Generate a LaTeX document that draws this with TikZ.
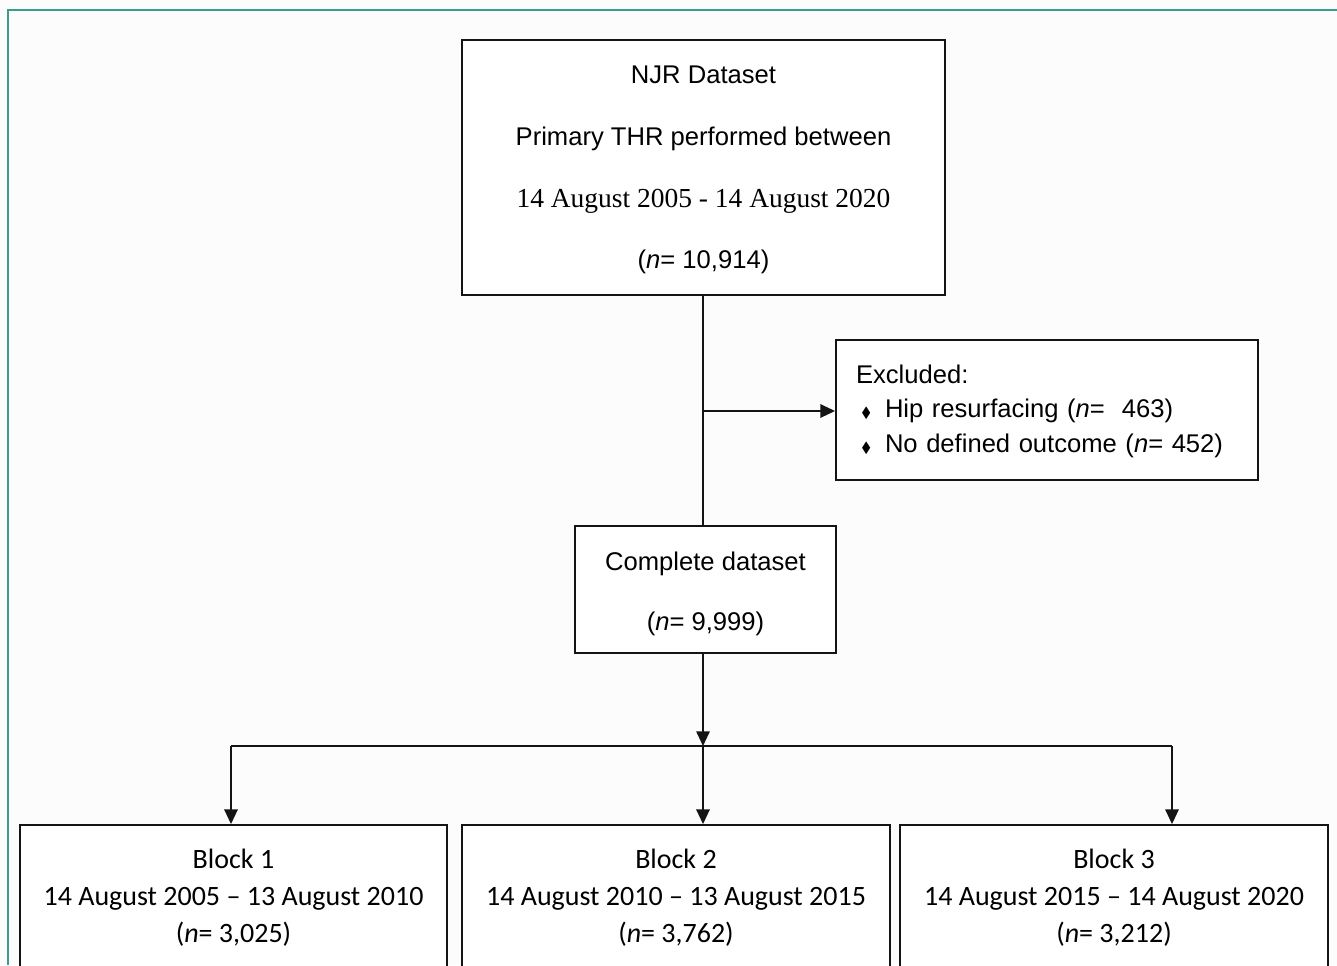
\documentclass[tikz,border=0pt]{standalone}
\usepackage{amssymb}
\usepackage{fontspec}
\setmainfont{Liberation Sans}
\newfontfamily\timesf{Liberation Serif}
\newfontfamily\calib{Carlito}
\usetikzlibrary{arrows.meta}
\definecolor{teal1}{RGB}{58,158,143}
\definecolor{ink}{RGB}{20,20,20}
\newcommand{\dbul}{\hspace*{4pt}\makebox[17.75pt][l]{\fontsize{11}{11}\selectfont$\blacklozenge$}}
\tikzset{
  box/.style={draw=ink, line width=1.4pt, fill=white, inner sep=0pt, align=center},
  mainfont/.style={font=\fontsize{19.2}{46.3}\selectfont},
  blockfont/.style={font=\calib\fontsize{21}{27.75}\selectfont},
  conn/.style={draw=ink, line width=1.4pt},
  arr/.style={conn, -{Triangle[width=10pt,length=11pt]}}
}
\begin{document}
\begin{tikzpicture}[x=0.75pt,y=-0.75pt]
\useasboundingbox (0,0) rectangle (1337,965);
\fill[white!99!black] (0,0) rectangle (1337,965);
\clip (0,0) rectangle (1337,965);
\draw[teal1, line width=1.8pt] (8,965) -- (8,10) -- (1340,10);

\node[box, mainfont, minimum width=362.25pt, minimum height=191.25pt] (top) at (703.5,167.5)
  {\rule{0pt}{17pt}NJR Dataset\\ Primary THR performed between\\ {\timesf\fontsize{20.6}{46.3}\selectfont 14 August 2005 - 14 August 2020}\\ (\textit{n}= 10,914)};

\node[box, font=\fontsize{19.2}{25.9}\selectfont, minimum width=316.5pt, minimum height=105pt,
      text width=286.5pt, align=left] (excl) at (1047,410)
  {\rule{0pt}{15.5pt}Excluded:\\ \dbul Hip resurfacing (\textit{n}=\ \ 463)\\ \dbul No defined outcome (\textit{n}= 452)};

\node[box, font=\fontsize{19.2}{45}\selectfont, minimum width=195.75pt, minimum height=95.25pt] (comp) at (705.5,589.5)
  {\rule{0pt}{20pt}Complete dataset\\ (\textit{n}= 9,999)};

\node[box, blockfont, minimum width=320.25pt, minimum height=109.5pt] (b1) at (233.5,898)
  {Block 1\\ 14 August 2005 – 13 August 2010\\ (\textit{n}= 3,025)};
\node[box, blockfont, minimum width=321pt, minimum height=109.5pt] (b2) at (676,898)
  {Block 2\\ 14 August 2010 – 13 August 2015\\ (\textit{n}= 3,762)};
\node[box, blockfont, minimum width=321pt, minimum height=109.5pt] (b3) at (1114,898)
  {Block 3\\ 14 August 2015 – 14 August 2020\\ (\textit{n}= 3,212)};

\coordinate (br) at (703,411);
\coordinate (split) at (703,746);
\coordinate (hl) at (231,746);
\coordinate (hr) at (1172,746);

\draw[conn] (split |- top.south) -- (split |- comp.north);
\draw[arr] (br) -- (br -| excl.west);
\draw[arr] (split |- comp.south) -- (split);
\draw[conn] (hl) -- (hr);
\draw[arr] (hl) -- (hl |- b1.north);
\draw[arr] (split) -- (split |- b2.north);
\draw[arr] (hr) -- (hr |- b3.north);
\end{tikzpicture}
\end{document}
